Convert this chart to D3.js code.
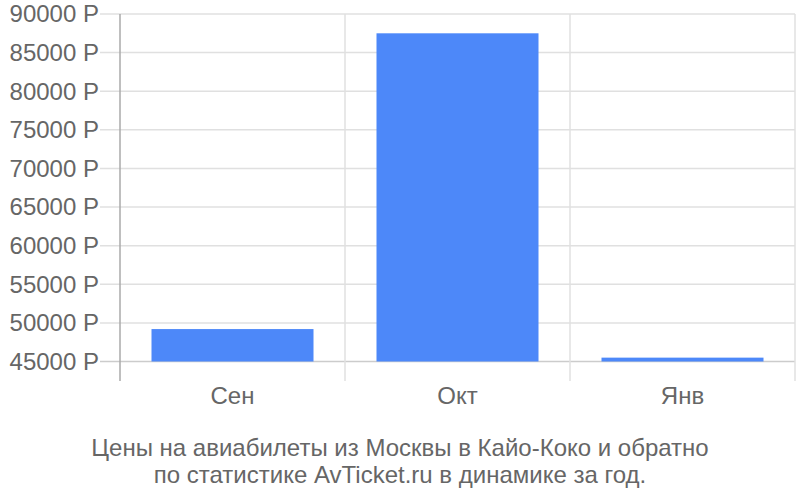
<!DOCTYPE html>
<html>
<head>
<meta charset="utf-8">
<script src="https://cdn.jsdelivr.net/npm/d3@7"></script>
<style>
  body { margin: 0; background: #fff; }
  text { font-family: "Liberation Sans", Arial, sans-serif; }
</style>
</head>
<body>
<svg id="chart" width="800" height="500"></svg>
<script>
const months = ["Сен", "Окт", "Янв"];
const prices = [49200, 87500, 45500];
const yTicks = [45000, 50000, 55000, 60000, 65000, 70000, 75000, 80000, 85000, 90000];
const titleLines = ["Цены на авиабилеты из Москвы в Кайо-Коко и обратно",
                    "по статистике AvTicket.ru в динамике за год."];

const svg = d3.select("#chart");
const plotLeft = 120, plotRight = 795, plotTop = 14, plotBottom = 361.5;

const x = d3.scaleBand().domain(months).range([plotLeft, plotRight]).paddingInner(0.28).paddingOuter(0.14);
const y = d3.scaleLinear().domain([45000, 90000]).range([plotBottom, plotTop]);

// horizontal grid lines
svg.selectAll(".hgrid")
    .data(yTicks)
    .enter().append("line")
    .attr("x1", 100)
    .attr("x2", plotRight)
    .attr("y1", d => y(d))
    .attr("y2", d => y(d))
    .style("stroke", d => d === 45000 ? "#cccccc" : "#e0e0e0")
    .style("stroke-width", "1.5px");

// vertical category separators
const sep = months.map((m, i) => x.step() * (i + 1) + plotLeft);
svg.selectAll(".vgrid")
    .data(sep)
    .enter().append("line")
    .attr("x1", d => d)
    .attr("x2", d => d)
    .attr("y1", plotTop)
    .attr("y2", 381)
    .style("stroke", "#e0e0e0")
    .style("stroke-width", "1.5px");

// bars
svg.selectAll(".bar")
    .data(prices)
    .enter().append("rect")
    .attr("x", (d, i) => x(months[i]))
    .attr("width", x.bandwidth())
    .attr("y", d => y(d))
    .attr("height", d => plotBottom - y(d))
    .style("fill", "#4d88f9");

// left axis line
svg.append("line")
    .attr("x1", plotLeft).attr("x2", plotLeft)
    .attr("y1", plotTop).attr("y2", 381)
    .style("stroke", "#aaaaaa")
    .style("stroke-width", "1.5px");

// y labels
svg.selectAll(".ylabel")
    .data(yTicks)
    .enter().append("text")
    .attr("x", 99)
    .attr("y", d => y(d))
    .attr("dy", "0.35em")
    .style("text-anchor", "end")
    .style("font-size", "24px")
    .style("fill", "#666")
    .text(d => d + " Р");

// x labels
svg.selectAll(".xlabel")
    .data(months)
    .enter().append("text")
    .attr("x", d => x(d) + x.bandwidth() / 2)
    .attr("y", 404)
    .style("text-anchor", "middle")
    .style("font-size", "24px")
    .style("fill", "#666")
    .text(d => d);

// title
svg.selectAll(".title")
    .data(titleLines)
    .enter().append("text")
    .attr("x", 400)
    .attr("y", (d, i) => 456 + i * 27)
    .style("text-anchor", "middle")
    .style("font-size", "24px")
    .style("fill", "#666")
    .text(d => d);
</script>
</body>
</html>
